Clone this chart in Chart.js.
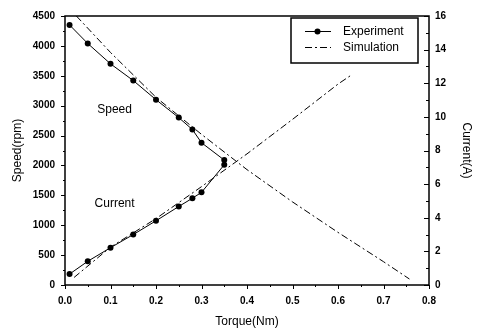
<!DOCTYPE html>
<html>
<head>
<meta charset="utf-8">
<script src="https://cdn.jsdelivr.net/npm/chart.js@4.4.1/dist/chart.umd.min.js"></script>
<style>
  html, body { margin: 0; padding: 0; background: #fff; }
  #wrap { position: relative; width: 480px; height: 331px; }
</style>
</head>
<body>
<div id="wrap"><canvas id="c" width="480" height="331"></canvas></div>
<script>
// ---- data ----
const torqueExp   = [0.01, 0.05, 0.10, 0.15, 0.20, 0.25, 0.28, 0.30, 0.35];
const speedExp    = [4350, 4040, 3700, 3420, 3100, 2800, 2600, 2380, 2090];
const currentExp  = [0.65, 1.41, 2.22, 3.00, 3.82, 4.67, 5.16, 5.51, 7.15];

const torqueSimS  = [0.025, 0.10, 0.20, 0.30, 0.40, 0.50, 0.60, 0.70, 0.757];
const speedSim    = [4500, 3890, 3140, 2520, 1930, 1390, 880, 390, 100];

const torqueSimI  = [0.02, 0.10, 0.20, 0.30, 0.40, 0.50, 0.60, 0.63];
const currentSim  = [0.45, 2.25, 3.95, 5.85, 7.80, 9.85, 11.95, 12.5];

const xTicks      = [0, 0.1, 0.2, 0.3, 0.4, 0.5, 0.6, 0.7, 0.8];
const speedTicks  = [0, 500, 1000, 1500, 2000, 2500, 3000, 3500, 4000, 4500];
const currentTicks= [0, 2, 4, 6, 8, 10, 12, 14, 16];

const legendLabels = ['Experiment', 'Simulation'];
const annotations  = [{text: 'Speed', x: 0.109, axis: 'y', y: 2930}, {text: 'Current', x: 0.109, axis: 'y2', y: 4.85}];

const FONT = "'Liberation Sans', Arial, sans-serif";
const pts = (xs, ys) => xs.map((x, i) => ({x, y: ys[i]}));
const DASH = [7, 3, 2, 3];

const framePlugin = {
  id: 'frame',
  afterDraw(chart) {
    const {ctx, chartArea: a, scales} = chart;
    ctx.save();
    ctx.strokeStyle = '#000';
    ctx.lineWidth = 1.5;
    ctx.strokeRect(a.left, a.top, a.right - a.left, a.bottom - a.top);
    ctx.lineWidth = 1;
    ctx.beginPath();
    // left axis ticks (outward)
    for (let v = 0; v <= 4500; v += 250) {
      const y = Math.round(scales.y.getPixelForValue(v)) + 0.5;
      const len = v % 500 === 0 ? 4 : 2;
      ctx.moveTo(a.left, y); ctx.lineTo(a.left - len, y);
    }
    // bottom axis ticks (outward)
    for (let i = 0; i <= 16; i++) {
      const x = Math.round(scales.x.getPixelForValue(i * 0.05)) + 0.5;
      const len = i % 2 === 0 ? 4 : 2;
      ctx.moveTo(x, a.bottom); ctx.lineTo(x, a.bottom + len);
    }
    // right axis ticks (inward)
    for (let v = 0; v <= 16; v += 1) {
      const y = Math.round(scales.y2.getPixelForValue(v)) + 0.5;
      const len = v % 2 === 0 ? 5 : 3;
      ctx.moveTo(a.right, y); ctx.lineTo(a.right - len, y);
    }
    ctx.stroke();

    // annotations
    ctx.fillStyle = '#000';
    ctx.font = '12px ' + FONT;
    ctx.textAlign = 'center';
    ctx.textBaseline = 'middle';
    annotations.forEach(an => {
      ctx.fillText(an.text, scales.x.getPixelForValue(an.x), scales[an.axis].getPixelForValue(an.y));
    });

    // legend box
    const lx = 291, ly = 18, lw = 127, lh = 45;
    ctx.fillStyle = '#fff';
    ctx.fillRect(lx, ly, lw, lh);
    ctx.lineWidth = 1.5;
    ctx.strokeRect(lx, ly, lw, lh);
    ctx.lineWidth = 1;
    // experiment
    ctx.beginPath(); ctx.moveTo(305, 31.5); ctx.lineTo(331, 31.5); ctx.stroke();
    ctx.fillStyle = '#000';
    ctx.beginPath(); ctx.arc(317.5, 31.5, 3, 0, Math.PI * 2); ctx.fill();
    // simulation
    ctx.setLineDash(DASH);
    ctx.beginPath(); ctx.moveTo(305, 47.5); ctx.lineTo(331, 47.5); ctx.stroke();
    ctx.setLineDash([]);
    ctx.textAlign = 'left';
    ctx.fillText(legendLabels[0], 343, 32);
    ctx.fillText(legendLabels[1], 343, 48);
    ctx.restore();
  }
};

const tickFont = {family: FONT, size: 10, weight: 'bold'};
const titleFont = {family: FONT, size: 12};

new Chart(document.getElementById('c'), {
  type: 'scatter',
  data: {
    datasets: [
      {label: 'Speed experiment', data: pts(torqueExp, speedExp), yAxisID: 'y', showLine: true,
       borderColor: '#000', borderWidth: 1, pointRadius: 3, pointBackgroundColor: '#000', pointBorderWidth: 0},
      {label: 'Current experiment', data: pts(torqueExp, currentExp), yAxisID: 'y2', showLine: true,
       borderColor: '#000', borderWidth: 1, pointRadius: 3, pointBackgroundColor: '#000', pointBorderWidth: 0},
      {label: 'Speed simulation', data: pts(torqueSimS, speedSim), yAxisID: 'y', showLine: true,
       borderColor: '#000', borderWidth: 1, borderDash: DASH, pointRadius: 0},
      {label: 'Current simulation', data: pts(torqueSimI, currentSim), yAxisID: 'y2', showLine: true,
       borderColor: '#000', borderWidth: 1, borderDash: DASH, pointRadius: 0}
    ]
  },
  options: {
    responsive: false,
    animation: false,
    layout: {padding: {top: 13, left: 0, right: 0, bottom: 0}},
    plugins: {legend: {display: false}, tooltip: {enabled: false}},
    scales: {
      x: {
        type: 'linear', min: 0, max: 0.8,
        afterBuildTicks: s => { s.ticks = xTicks.map(v => ({value: v})); },
        afterFit: s => { s.height = 46; },
        ticks: {font: tickFont, color: '#000', padding: 10, callback: v => Number(v).toFixed(1), maxRotation: 0, autoSkip: false},
        grid: {display: false, drawTicks: false},
        border: {display: false},
        title: {display: true, text: 'Torque(Nm)', font: titleFont, color: '#000', padding: 2}
      },
      y: {
        type: 'linear', position: 'left', min: 0, max: 4500,
        afterBuildTicks: s => { s.ticks = speedTicks.map(v => ({value: v})); },
        afterFit: s => { s.width = 65; },
        ticks: {font: tickFont, color: '#000', padding: 10, autoSkip: false, callback: v => String(v)},
        grid: {display: false, drawTicks: false},
        border: {display: false},
        title: {display: true, text: 'Speed(rpm)', font: titleFont, color: '#000', padding: 10}
      },
      y2: {
        type: 'linear', position: 'right', min: 0, max: 16,
        afterBuildTicks: s => { s.ticks = currentTicks.map(v => ({value: v})); },
        afterFit: s => { s.width = 51; },
        ticks: {font: tickFont, color: '#000', padding: 6, autoSkip: false, callback: v => String(v)},
        grid: {display: false, drawTicks: false},
        border: {display: false},
        title: {display: true, text: 'Current(A)', font: titleFont, color: '#000', padding: 6}
      }
    }
  },
  plugins: [framePlugin]
});
</script>
</body>
</html>
